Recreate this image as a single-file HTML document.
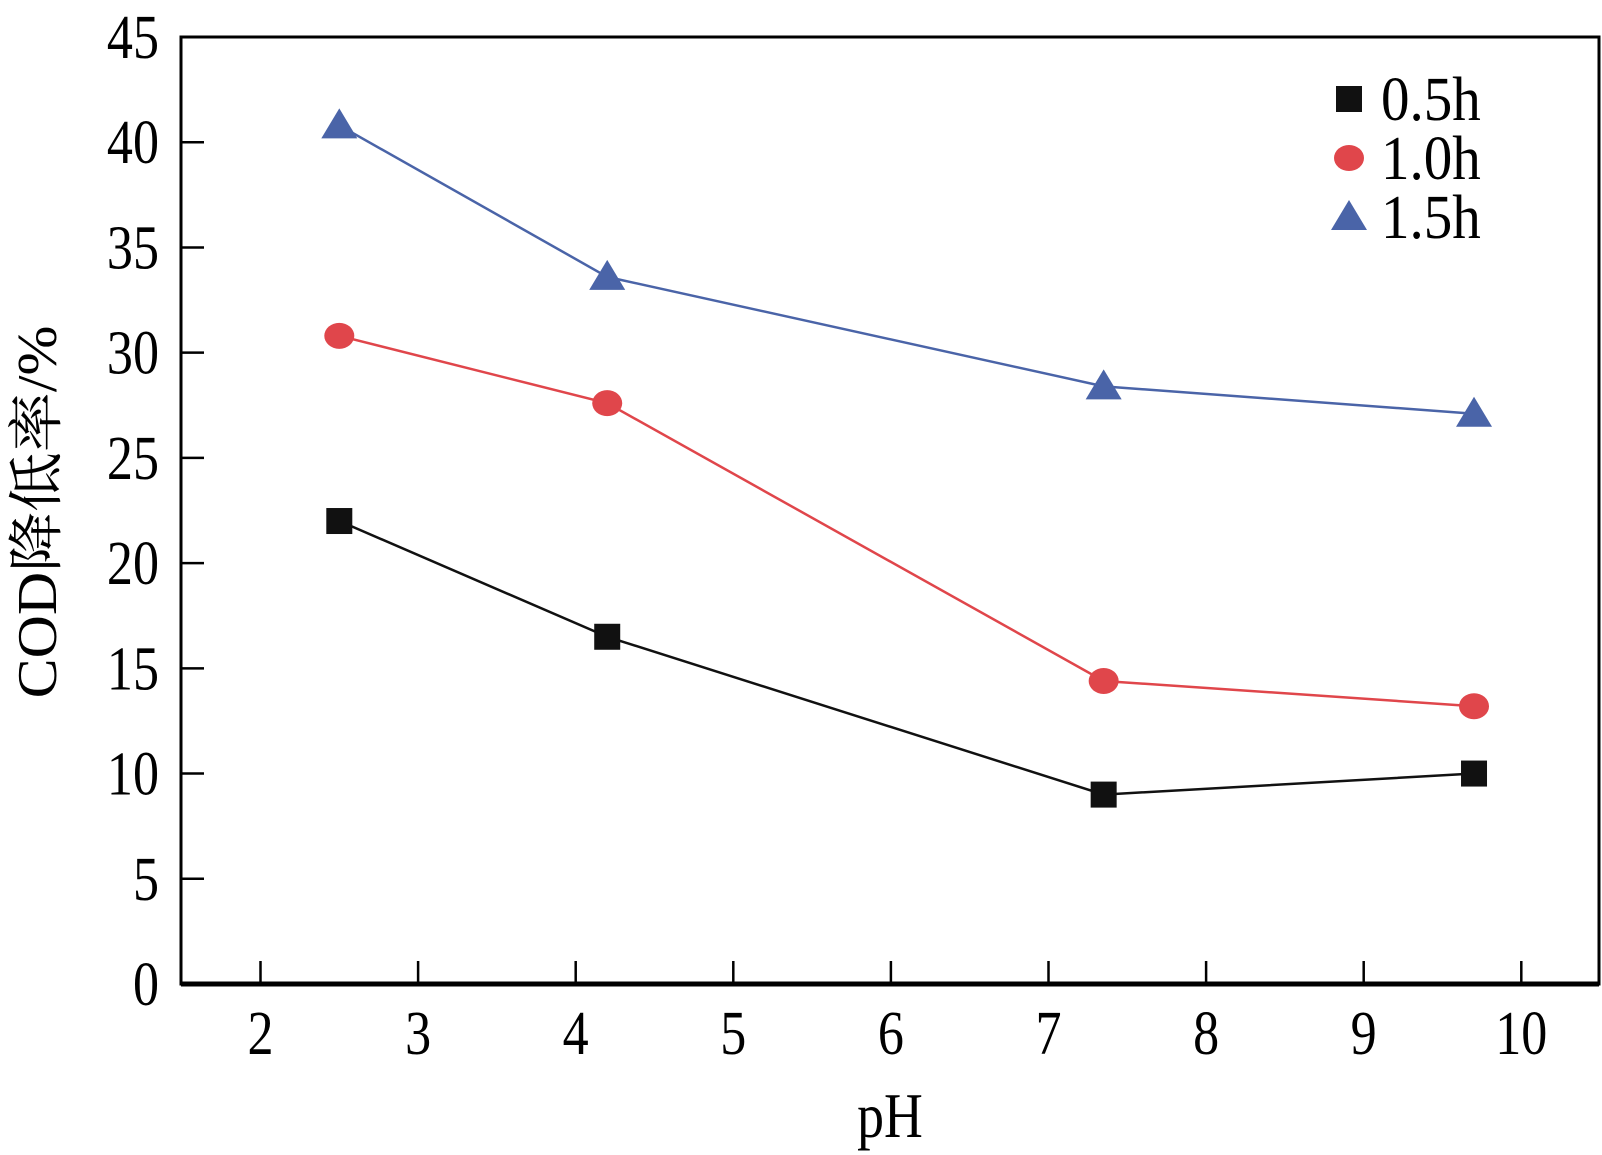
<!DOCTYPE html>
<html><head><meta charset="utf-8"><style>
html,body{margin:0;padding:0;background:#fff;}
svg{display:block;font-family:"Liberation Serif","Noto Serif CJK SC",serif;}
</style></head><body>
<svg id="chart" width="1602" height="1155" viewBox="0 0 1602 1155">
<g id="axes"></g><g id="series"></g><g id="legend"></g>
</svg>
<script>
const categories=[2.5,4.2,7.35,9.7];
const s05=[22,16.5,9,10];
const s10=[30.8,27.6,14.4,13.2];
const s15=[40.8,33.6,28.4,27.1];
const xTicks=[2,3,4,5,6,7,8,9,10];
const yTicks=[0,5,10,15,20,25,30,35,40,45];
const seriesNames=["0.5h","1.0h","1.5h"];
const NS="http://www.w3.org/2000/svg";
const L=181,R=1599,T=37,B=984;
const X=v=>260.5+(v-2)*157.6;
const Y=v=>B-(v/45)*(B-T);
function mk(t,a,p){const e=document.createElementNS(NS,t);for(const k in a)e.setAttribute(k,a[k]);p.appendChild(e);return e;}
function txt(x,y,s,anchor,str,p,sx){
 const e=mk('text',{x:0,y:0,'font-size':s,'text-anchor':anchor,transform:`translate(${x},${y}) scale(${sx||0.84},1)`},p);
 e.textContent=str;return e;
}
const ax=document.getElementById('axes');
const frame=mk('rect',{x:L,y:T,width:R-L,height:B-T,fill:'none',stroke:'#000','stroke-width':3},ax);


const xl=mk('line',{x1:L,x2:R,y1:B,y2:B,stroke:'#000','stroke-width':5},ax);


xTicks.forEach(v=>{
 const l=mk('line',{x1:X(v),x2:X(v),y1:B,y2:B-23,stroke:'#000','stroke-width':2.5},ax);
 
 
 const t=txt(X(v),B+70,62,'middle',v,ax);
 
 
});
yTicks.forEach(v=>{
 const l=mk('line',{x1:L,x2:L+23,y1:Y(v),y2:Y(v),stroke:'#000','stroke-width':2.5},ax);
 
 
 const t=txt(L-22,Y(v)+21,62,'end',v,ax);
 
 
});
const xt=txt(890,1137,64,'middle','pH',ax);


const yt=mk('text',{x:0,y:0,'font-size':56,'text-anchor':'middle',transform:'translate(56,512) rotate(-90) scale(1.07,1)'},ax);yt.textContent='COD降低率/%';


const sg=document.getElementById('series');
const data=[s05,s10,s15],colors=['#111','#e0464b','#4a64a8'];
function marker(i,cx,cy,p){
 let e;
 if(i===0)e=mk('rect',{x:cx-13,y:cy-13,width:26,height:26,fill:colors[0]},p);
 else if(i===1)e=mk('ellipse',{cx:cx,cy:cy,rx:15,ry:13,fill:colors[1]},p);
 else e=mk('polygon',{points:`${cx},${cy-17} ${cx+18},${cy+13} ${cx-18},${cy+13}`,fill:colors[2]},p);
 return e;
}
data.forEach((d,i)=>{
 const pl=mk('polyline',{points:d.map((v,j)=>X(categories[j])+','+Y(v)).join(' '),fill:'none',stroke:colors[i],'stroke-width':2.5},sg);
 
 
 d.forEach((v,j)=>{
  const m=marker(i,X(categories[j]),Y(v),sg);
  
  
 });
});
const lg=document.getElementById('legend');
seriesNames.forEach((n,i)=>{
 const y=99+i*59;
 const m=marker(i,1349,y,lg);
 
 
 const t=txt(1381,y+21,62,'start',n,lg,0.92);
 
 
});
</script>
</body></html>
